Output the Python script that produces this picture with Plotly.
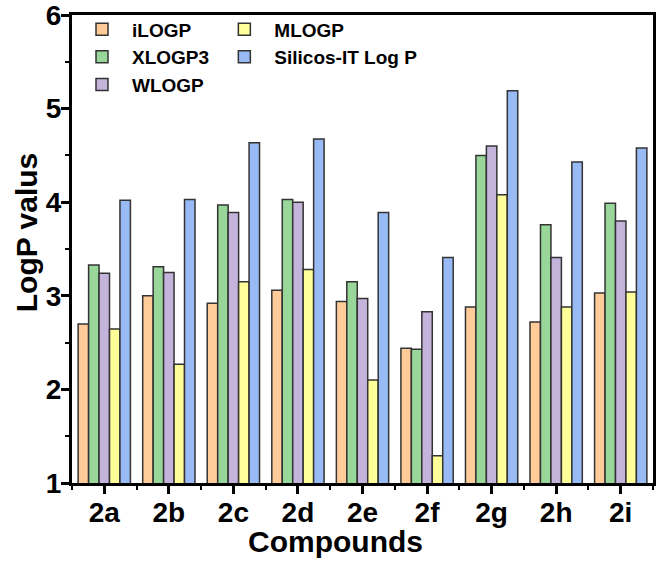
import plotly.graph_objects as go

compounds = ["2a", "2b", "2c", "2d", "2e", "2f", "2g", "2h", "2i"]
ilogp = [2.70, 3.00, 2.92, 3.06, 2.94, 2.44, 2.88, 2.72, 3.03]
xlogp3 = [3.33, 3.31, 3.97, 4.03, 3.15, 2.43, 4.50, 3.76, 3.99]
wlogp = [3.24, 3.25, 3.89, 4.00, 2.97, 2.83, 4.60, 3.41, 3.80]
mlogp = [2.645, 2.27, 3.15, 3.28, 2.10, 1.29, 4.08, 2.88, 3.04]
silicos = [4.02, 4.03, 4.635, 4.675, 3.89, 3.41, 5.19, 4.43, 4.58]

series = [
    ("iLOGP", ilogp, "#FFCC99", "legend"),
    ("XLOGP3", xlogp3, "#99D699", "legend"),
    ("WLOGP", wlogp, "#C4B3DB", "legend"),
    ("MLOGP", mlogp, "#FFFF99", "legend2"),
    ("Silicos-IT Log P", silicos, "#99BBF5", "legend2"),
]

xpos = list(range(len(compounds)))

fig = go.Figure()
for name, vals, col, lg in series:
    fig.add_trace(go.Bar(
        x=xpos, y=vals, name=name, legend=lg,
        marker=dict(color=col, line=dict(color="#333333", width=1.5)),
    ))

font_family = "Liberation Sans, Arial, sans-serif"
legend_style = dict(
    font=dict(family=font_family, size=19, color="black", weight="bold"),
    bgcolor="rgba(0,0,0,0)", borderwidth=0, orientation="v",
    xanchor="left", yanchor="top", tracegroupgap=0, itemwidth=50,
)
title_font = dict(size=30, family=font_family, color="black", weight="bold")

fig.update_layout(
    width=657, height=564,
    margin=dict(l=72, r=4, t=15, b=81),
    plot_bgcolor="white", paper_bgcolor="white",
    barmode="group", bargap=0.19, bargroupgap=0,
    font=dict(family=font_family, color="black"),
    legend=dict(x=0.0, y=1.01, **legend_style),
    legend2=dict(x=0.245, y=1.01, **legend_style),
    annotations=[
        dict(text="LogP valus", xref="paper", yref="paper", x=-0.079, y=0.536,
             xanchor="center", yanchor="middle", textangle=-90, showarrow=False,
             font=title_font),
        dict(text="Compounds", xref="paper", yref="paper", x=0.454, y=-0.124,
             xanchor="center", yanchor="middle", showarrow=False,
             font=title_font),
    ],
)

fig.update_xaxes(
    range=[-0.5, 8.5], tickmode="array", tickvals=xpos, ticktext=compounds,
    automargin=False, ticklabelstandoff=-6, ticklabeloverflow="allow",
    showline=True, linewidth=3, linecolor="black", mirror=True,
    ticks="outside", ticklen=8, tickwidth=3, tickcolor="black",
    minor=dict(ticks="outside", ticklen=4, tickwidth=2, tickcolor="black", tick0=0.5, dtick=1),
    showgrid=False, zeroline=False,
    tickfont=dict(size=28, family=font_family, color="black", weight="bold"),
)
fig.update_yaxes(
    range=[1, 6], dtick=1, tick0=1,
    automargin=False, ticklabelstandoff=-6, ticklabeloverflow="allow",
    showline=True, linewidth=3, linecolor="black", mirror=True,
    ticks="outside", ticklen=8, tickwidth=3, tickcolor="black",
    minor=dict(ticks="outside", ticklen=4, tickwidth=2, tickcolor="black", dtick=0.5),
    showgrid=False, zeroline=False,
    tickfont=dict(size=28, family=font_family, color="black", weight="bold"),
)

fig.write_html("out.html", config={"displayModeBar": False},
               post_script="document.body.style.margin='0px';")
